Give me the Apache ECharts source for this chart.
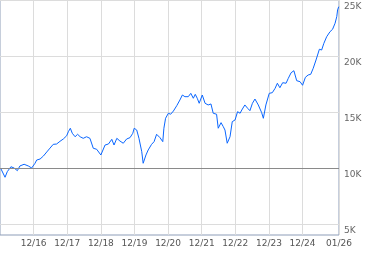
<!DOCTYPE html>
<html><head><meta charset="utf-8">
<script src="https://cdn.jsdelivr.net/npm/echarts@6/dist/echarts.min.js"></script>
<style>html,body{margin:0;padding:0;background:#fff}#c{width:379px;height:255px}</style>
</head><body><div id="c"></div>
<script>
// x = months since Dec 2015
const months = [0.25,1.8,2.6,3.9,5.0,6.2,7.1,8.6,9.3,10.1,11.3,12.5,13.1,14.3,15.5,16.7,17.6,19.0,20.2,21.4,22.6,23.8,24.4,25.1,25.8,26.8,27.7,28.6,29.7,30.9,32.1,33.3,34.5,36.0,37.5,38.7,39.9,40.7,41.7,42.8,44.0,45.2,46.4,47.4,47.9,48.8,49.6,50.6,51.1,52.1,52.9,54.1,55.0,55.9,57.1,58.1,58.5,59.1,60.1,60.9,61.9,63.1,64.2,65.1,66.0,67.2,68.1,69.0,69.7,70.4,71.1,72.2,73.2,74.3,75.3,76.1,77.3,77.9,78.9,79.7,80.3,81.1,82.1,82.9,83.9,84.8,85.7,86.3,87.4,88.4,89.2,90.1,91.0,92.2,93.4,94.0,94.9,96.1,97.2,98.2,99.0,99.9,100.9,102.1,102.9,103.9,104.9,105.9,107.1,108.0,109.0,110.0,110.9,111.8,112.8,114.0,114.8,115.6,116.6,117.8,118.7,119.6,120.2,120.5,120.9];
const values = [9960,9160,9660,10100,9990,9750,10170,10320,10350,10170,9990,10410,10700,10790,11060,11420,11690,12100,12130,12370,12580,12870,13230,13540,13090,12780,13000,12780,12640,12780,12640,11750,11660,11150,12040,12130,12550,12040,12640,12400,12200,12580,12700,13090,13540,13380,12640,11440,10410,11150,11600,12100,12340,13000,12700,12340,13540,14430,14880,14790,15080,15560,16060,16510,16360,16360,16660,16220,16570,16220,15770,16510,15770,15620,15710,14880,14790,13540,14040,13680,13380,12200,12780,14130,14280,15020,14880,15170,15620,15320,15110,15770,16150,15620,14930,14430,15620,16660,16720,17110,17560,17160,17610,17560,18000,18500,18680,17790,17700,17380,18090,18300,18360,18900,19640,20600,20530,21130,21720,22170,22380,22920,23510,24110,24400];
const xTickMonths = [12,24,36,48,60,72,84,96,108,121];
const xTickLabels = ['12/16','12/17','12/18','12/19','12/20','12/21','12/22','12/23','12/24','01/26'];
const yTicks = [5000,10000,15000,20000,25000];
const yTickLabels = ['5K','10K','15K','20K','25K'];

const chart = echarts.init(document.getElementById('c'), null, {renderer:'canvas'});
chart.setOption({
  animation:false,
  grid:{left:0,top:0,width:339,height:235,show:true,borderColor:'#8d9db8',borderWidth:1,containLabel:false},
  xAxis:{type:'value',min:0,max:121,
    axisLine:{show:false},
    axisTick:{show:false,customValues:xTickMonths},
    splitLine:{show:true,lineStyle:{color:'#dcdcdc',width:1}},
    axisLabel:{customValues:xTickMonths,margin:4,color:'#555',fontFamily:'DejaVu Sans',fontSize:9,
      formatter:function(v){const i=xTickMonths.indexOf(v);return i>=0?xTickLabels[i]:'';}}
  },
  yAxis:{type:'value',position:'right',min:4000,max:25000,
    axisLine:{show:false},
    axisTick:{show:false,customValues:yTicks},
    splitLine:{show:true,lineStyle:{color:'#dcdcdc',width:1}},
    axisLabel:{customValues:yTicks,margin:5,color:'#666',fontFamily:'DejaVu Sans',fontSize:9,verticalAlign:'top',padding:[2,0,0,0],
      formatter:function(v){const i=yTicks.indexOf(v);return i>=0?yTickLabels[i]:'';}}
  },
  series:[{type:'line',data:months.map((m,i)=>[m,values[i]]),showSymbol:false,symbol:'none',
    lineStyle:{color:'#0a66ff',width:1},
    markLine:{silent:true,symbol:'none',label:{show:false},lineStyle:{color:'#8a8a8a',type:'solid',width:1},data:[{yAxis:10000}]}
  }]
});
</script></body></html>
